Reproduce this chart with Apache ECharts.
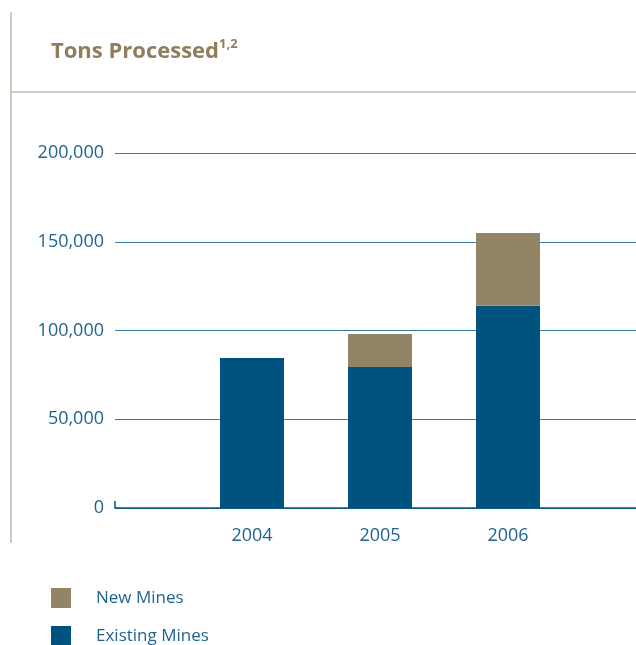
<!DOCTYPE html>
<html>
<head>
<meta charset="utf-8">
<title>Tons Processed</title>
<script src="https://cdn.jsdelivr.net/npm/echarts@6/dist/echarts.min.js"></script>
<style>
  html, body { margin: 0; padding: 0; background: #ffffff; }
  #chart { width: 636px; height: 645px; }
</style>
</head>
<body>
<div id="chart"></div>
<script>
// Years shown on the category axis
const years = ['2004', '2005', '2006'];
// Tons processed by mines already operating (bottom of stack)
const existingMines = [84500, 79500, 114000];
// Tons processed by newly opened mines (top of stack)
const newMines = [0, 18500, 41000];
// Value axis range and step
const yMin = 0;
const yMax = 200000;
const yStep = 50000;

const BLUE = '#00527f';
const TAN = '#948466';
const TEXT_BLUE = '#1f6490';
const RULE = '#c4baa9';
const FONT = '"Open Sans", "Noto Sans", sans-serif';

const legendText = { fontFamily: FONT, fontSize: 17, color: TEXT_BLUE, padding: [0, 0, 0, 20] };

const chart = echarts.init(document.getElementById('chart'), null, { renderer: 'canvas' });

chart.setOption({
  animation: false,
  backgroundColor: '#ffffff',
  textStyle: { fontFamily: FONT },
  title: {
    left: 51,
    top: 38,
    padding: 0,
    text: '{a|Tons Processed}{b|1,2}',
    textStyle: {
      rich: {
        a: { fontFamily: FONT, fontSize: 22, fontWeight: 'bold', color: '#8f7d5c', lineHeight: 28 },
        b: { fontFamily: FONT, fontSize: 13, fontWeight: 'bold', color: '#8f7d5c', verticalAlign: 'top', lineHeight: 16 }
      }
    }
  },
  graphic: [
    { type: 'line', shape: { x1: 11, y1: 12, x2: 11, y2: 543 }, style: { stroke: RULE, lineWidth: 1.5 } },
    { type: 'line', shape: { x1: 11, y1: 92, x2: 636, y2: 92 }, style: { stroke: RULE, lineWidth: 1.5 } }
  ],
  legend: [
    {
      left: 51, top: 588, padding: 0,
      itemWidth: 20, itemHeight: 20, icon: 'rect',
      data: ['New Mines'],
      textStyle: legendText
    },
    {
      left: 51, top: 626, padding: 0,
      itemWidth: 20, itemHeight: 20, icon: 'rect',
      data: ['Existing Mines'],
      textStyle: legendText
    }
  ],
  grid: [
    // frame for the value scale and its gridlines
    { left: 115, right: 0, top: 153, bottom: 137, containLabel: false },
    // frame for the bars
    { left: 188, right: 64, top: 153, bottom: 137, containLabel: false }
  ],
  xAxis: [
    {
      gridIndex: 0,
      type: 'value',
      min: 0,
      max: 1,
      axisLine: { show: true, onZero: false, lineStyle: { color: '#00527f', width: 1.5 } },
      axisTick: { show: true, inside: true, length: 7, customValues: [0], lineStyle: { color: '#00527f', width: 1.5 } },
      axisLabel: { show: false },
      splitLine: { show: false }
    },
    {
      gridIndex: 1,
      type: 'category',
      data: years,
      axisLine: { show: false },
      axisTick: { show: false },
      axisLabel: { color: TEXT_BLUE, fontSize: 18, fontFamily: FONT, margin: 19 },
      splitLine: { show: false }
    }
  ],
  yAxis: [
    {
      gridIndex: 0,
      type: 'value',
      min: yMin,
      max: yMax,
      interval: yStep,
      axisLine: { show: false },
      axisTick: { show: false },
      axisLabel: {
        color: TEXT_BLUE,
        fontSize: 18,
        fontFamily: FONT,
        margin: 11,
        formatter: v => v.toLocaleString('en-US')
      },
      splitLine: { show: true, lineStyle: { color: '#3a7ea9', width: 1.2 } }
    },
    {
      gridIndex: 1,
      type: 'value',
      min: yMin,
      max: yMax,
      interval: yStep,
      show: false,
      splitLine: { show: false }
    }
  ],
  series: [
    {
      name: 'Existing Mines',
      type: 'bar',
      xAxisIndex: 1,
      yAxisIndex: 1,
      stack: 'tons',
      barWidth: 64,
      itemStyle: { color: BLUE },
      data: existingMines
    },
    {
      name: 'New Mines',
      type: 'bar',
      xAxisIndex: 1,
      yAxisIndex: 1,
      stack: 'tons',
      barWidth: 64,
      itemStyle: { color: TAN },
      data: newMines
    }
  ]
});
</script>
</body>
</html>
